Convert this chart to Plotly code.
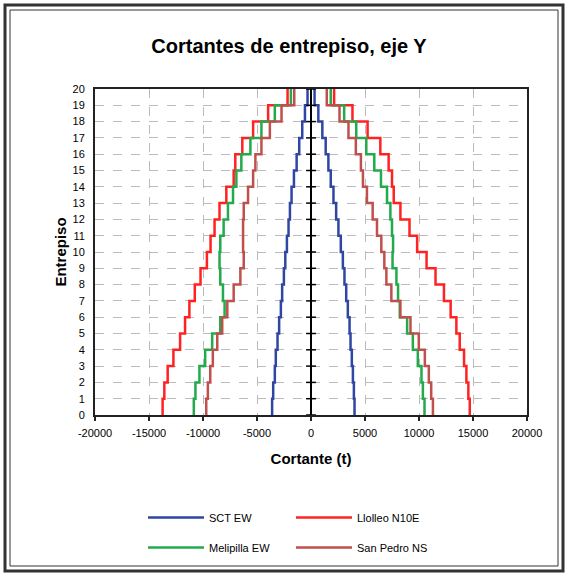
import plotly.graph_objects as go

# storey levels and shear per storey (storey i spans level i to i+1)
levels = list(range(0, 21))
storeys = list(range(0, 20))

sct_pos = [4030, 3970, 3880, 3780, 3660, 3570, 3410, 3260, 3100, 2950,
           2760, 2540, 2330, 2080, 1830, 1610, 1360, 1050, 680, 330]
sct_neg = [-3600, -3500, -3350, -3260, -3100, -2950, -2790, -2670, -2510, -2380,
           -2230, -2080, -1950, -1800, -1580, -1330, -1090, -810, -560, -320]

llolleo_pos = [14700, 14570, 14390, 14170, 13770, 13460, 12930, 12310, 11530, 10700,
               9830, 9120, 8280, 7660, 7500, 7190, 6420, 5240, 3840, 2140]
llolleo_neg = [-13740, -13580, -13270, -12740, -12120, -11660, -11260, -10760, -10230, -9640,
               -9300, -8930, -8470, -7840, -7160, -7010, -6360, -5360, -3970, -2170]

melipilla_pos = [10510, 10360, 10230, 9890, 9430, 8900, 8220, 8060, 7910, 7550,
                 7600, 7500, 7350, 7040, 6480, 5860, 5120, 4190, 3070, 1830]
melipilla_neg = [-10850, -10700, -10330, -9800, -9150, -8400, -8000, -8150, -8400, -8470,
                 -8400, -8090, -7690, -7220, -6910, -6450, -5610, -4590, -3350, -1860]

sanpedro_pos = [11290, 11130, 10910, 10540, 9980, 9210, 8280, 7440, 6980, 6790,
                6510, 6110, 5710, 5180, 4810, 4620, 4150, 3470, 2640, 1460]
sanpedro_neg = [-9700, -9550, -9330, -9090, -8680, -8220, -7750, -7160, -6540, -6230,
                -6290, -6290, -6230, -5830, -5360, -5150, -4590, -3810, -2730, -1550]

x_ticks = [-20000, -15000, -10000, -5000, 0, 5000, 10000, 15000, 20000]

series = [
    ("SCT EW", sct_pos, sct_neg, "#2F47A3", "legend"),
    ("Llolleo N10E", llolleo_pos, llolleo_neg, "#FF2222", "legend"),
    ("Melipilla EW", melipilla_pos, melipilla_neg, "#22AA4C", "legend2"),
    ("San Pedro NS", sanpedro_pos, sanpedro_neg, "#C0504D", "legend2"),
]

FONT = "Liberation Sans, Arial, sans-serif"
W, H = 568, 576
L, R, T, B = 95, 41, 89, 161
PW, PH = W - L - R, H - T - B


def step_xy(vals):
    # one point per storey bottom, plus the roof level
    xs = list(vals) + [vals[-1]]
    ys = list(storeys) + [levels[-1]]
    return xs, ys


fig = go.Figure()

for name, pos, neg, color, leg in series:
    xp, yp = step_xy(pos)
    xn, yn = step_xy(neg)
    fig.add_trace(go.Scatter(
        x=xp + [None] + xn, y=yp + [None] + yn,
        mode="lines", name=name, line=dict(color=color, width=2.5, shape="vh"),
        legend=leg, connectgaps=False,
    ))

# small tick marks on the central axis
fig.add_trace(go.Scatter(
    x=[0] * len(levels), y=levels, mode="markers", showlegend=False,
    marker=dict(symbol="line-ew", size=7, line=dict(color="black", width=1.5)),
    hoverinfo="skip",
))


def px_x(p):
    return (p - L) / PW


def px_y(p):
    return 1 - (p - T) / PH


# double outer frame
fig.add_shape(type="rect", xref="paper", yref="paper",
              x0=px_x(5), x1=px_x(W - 5), y0=px_y(H - 5), y1=px_y(5),
              line=dict(color="#333333", width=3))
fig.add_shape(type="rect", xref="paper", yref="paper",
              x0=px_x(10), x1=px_x(W - 10), y0=px_y(H - 10), y1=px_y(10),
              line=dict(color="#333333", width=1))

legend_common = dict(orientation="h", xref="container", yref="container",
                     xanchor="left", yanchor="top", itemwidth=56,
                     entrywidth=77, font=dict(size=11), bgcolor="rgba(0,0,0,0)")

fig.update_layout(
    width=W, height=H,
    margin=dict(l=L, r=R, t=T, b=B),
    paper_bgcolor="white", plot_bgcolor="white",
    font=dict(family=FONT, size=11, color="black"),
    title=dict(text="<b>Cortantes de entrepiso, eje Y</b>", font=dict(size=20, family=FONT),
               xref="container", x=289 / W, xanchor="center",
               yref="container", y=1 - 46 / H, yanchor="middle"),
    xaxis=dict(
        range=[-20000, 20000], tickvals=x_ticks, ticktext=[str(v) for v in x_ticks],
        showgrid=True, gridcolor="#BBBBBB", griddash="dash", gridwidth=1.2,
        zeroline=True, zerolinecolor="black", zerolinewidth=2,
        showline=True, mirror=True, linecolor="#222222", linewidth=2,
        ticks="outside", ticklen=4, tickcolor="#222222", tickwidth=1.5,
        ticklabelstandoff=3,
        tickfont=dict(size=11),
        title=dict(text="<b>Cortante (t)</b>", font=dict(size=15), standoff=15),
    ),
    yaxis=dict(
        range=[0, 20], tickvals=levels,
        showgrid=True, gridcolor="#BBBBBB", griddash="dash", gridwidth=1.2,
        zeroline=False,
        showline=True, mirror=True, linecolor="#222222", linewidth=2,
        ticks="outside", ticklen=6, tickcolor="rgba(0,0,0,0)",
        tickfont=dict(size=11),
        title=dict(text="<b>Entrepiso</b>", font=dict(size=15), standoff=2),
    ),
    legend=dict(x=143 / W, y=1 - 503 / H, **legend_common),
    legend2=dict(x=143 / W, y=1 - 533 / H, **legend_common),
)

# the page body has a default 8px margin; remove it so the figure fills the window
fig.write_html("out.html", config={"displayModeBar": False},
               post_script="document.body.style.margin='0';")
